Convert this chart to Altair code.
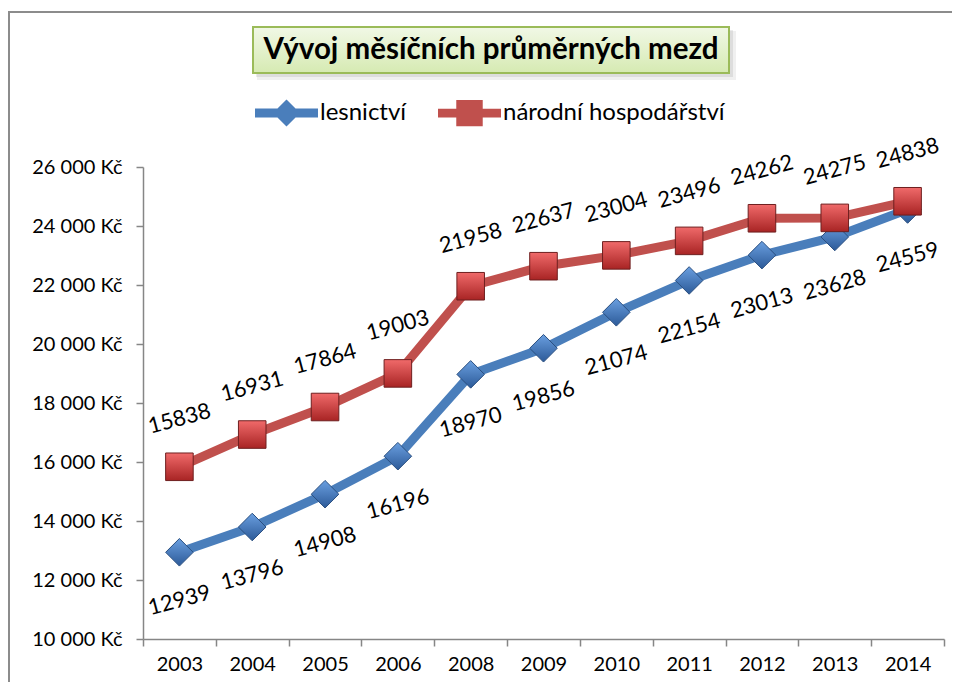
import altair as alt
import pandas as pd

years = ["2003", "2004", "2005", "2006", "2008", "2009", "2010", "2011", "2012", "2013", "2014"]
lesnictvi = [12939, 13796, 14908, 16196, 18970, 19856, 21074, 22154, 23013, 23628, 24559]
narodni = [15838, 16931, 17864, 19003, 21958, 22637, 23004, 23496, 24262, 24275, 24838]
series = ["lesnictví", "národní hospodářství"]
title_text = "Vývoj měsíčních průměrných mezd"
y_ticks = [10000, 12000, 14000, 16000, 18000, 20000, 22000, 24000, 26000]

rows = []
for yr, a, b in zip(years, lesnictvi, narodni):
    rows.append({"rok": yr, "serie": series[0], "mzda": a})
    rows.append({"rok": yr, "serie": series[1], "mzda": b})
df = pd.DataFrame(rows)

W, H = 801, 472
FONT = "Lato"
BLUE = "#4a7ebb"
RED = "#c0504d"
AXIS_GRAY = "#868686"
LABEL_SHIFT = 1627  # ~48 px in data units

x_scale = alt.Scale(type="band", domain=years, paddingInner=0, paddingOuter=0)
y_scale = alt.Scale(domain=[10000, 26000], nice=False, zero=False)

x_axis = alt.Axis(title=None, tickBand="extent", labelAngle=0, labelFont=FONT,
                  labelFontSize=20, labelColor="black", domainColor=AXIS_GRAY,
                  domainWidth=1.5, tickColor=AXIS_GRAY, tickWidth=1.5, tickSize=7,
                  labelPadding=8, grid=False)
y_axis = alt.Axis(title=None, values=y_ticks,
                  labelExpr="replace(format(datum.value, ',d'), ',', ' ') + ' Kč'",
                  labelFont=FONT, labelFontSize=20, labelColor="black",
                  domainColor=AXIS_GRAY, domainWidth=1.5, tickColor=AXIS_GRAY,
                  tickWidth=1.5, tickSize=7, labelPadding=14, grid=False)

X = alt.X("rok:O", scale=x_scale, axis=x_axis)
Y = alt.Y("mzda:Q", scale=y_scale, axis=y_axis)

one = pd.DataFrame({"k": [0]})

border = alt.Chart(one).mark_rect(fillOpacity=0, stroke="#8c8c8c", strokeWidth=2).encode(
    x=alt.value(-134), x2=alt.value(900), y=alt.value(-155), y2=alt.value(600))

shadow1 = alt.Chart(one).mark_rect(fill="#000000", opacity=0.06).encode(
    x=alt.value(114), x2=alt.value(593), y=alt.value(-136), y2=alt.value(-87))
shadow2 = alt.Chart(one).mark_rect(fill="#000000", opacity=0.08).encode(
    x=alt.value(113), x2=alt.value(590), y=alt.value(-137), y2=alt.value(-90))

title_box = alt.Chart(one).mark_rect(
    stroke="#9bbb59", strokeWidth=2,
    fill=alt.Gradient(gradient="linear", x1=0, x2=0, y1=0, y2=1,
                      stops=[alt.GradientStop(offset=0, color="#f1f8e6"),
                             alt.GradientStop(offset=1, color="#d6eab2")])
).encode(x=alt.value(110), x2=alt.value(586), y=alt.value(-140), y2=alt.value(-94))

title_mark = alt.Chart(one).mark_text(
    text=title_text, font=FONT, fontSize=29.5, fontWeight="bold", color="black",
    align="center", baseline="middle"
).encode(x=alt.value(348), y=alt.value(-117))

blue_df = df[df.serie == series[0]]
red_df = df[df.serie == series[1]]

blue_line = alt.Chart(blue_df).mark_line(color=BLUE, strokeWidth=9).encode(x=X, y=Y)
red_line = alt.Chart(red_df).mark_line(color=RED, strokeWidth=9).encode(x=X, y=Y)

blue_pts = alt.Chart(blue_df).mark_point(
    shape="diamond", filled=True, size=760, opacity=1,
    fill=alt.Gradient(gradient="linear", x1=0, x2=0, y1=0, y2=1,
                      stops=[alt.GradientStop(offset=0, color="#6a9fe0"),
                             alt.GradientStop(offset=1, color="#2c5a98")]),
    stroke="#2a4f80", strokeWidth=1).encode(x=X, y=Y)
red_pts = alt.Chart(red_df).mark_point(
    shape="square", filled=True, size=760, opacity=1,
    fill=alt.Gradient(gradient="linear", x1=0, x2=0, y1=0, y2=1,
                      stops=[alt.GradientStop(offset=0, color="#f06a6a"),
                             alt.GradientStop(offset=1, color="#a82424")]),
    stroke="#6e1f1f", strokeWidth=1).encode(x=X, y=Y)

labels = alt.Chart(df).transform_calculate(
    ly=f"datum.serie == '{series[0]}' ? datum.mzda - {LABEL_SHIFT} : datum.mzda + {LABEL_SHIFT}"
).mark_text(font=FONT, fontSize=22, color="black", angle=345,
            align="center", baseline="middle").encode(
    x=X, y=alt.Y("ly:Q", scale=y_scale, axis=y_axis), text=alt.Text("mzda:Q", format="d"))

path_blue = "M-1,-0.14 L1,-0.14 L1,0.14 L-1,0.14 Z M0,-0.43 L0.43,0 L0,0.43 L-0.43,0 Z"
path_red = "M-1,-0.14 L1,-0.14 L1,0.14 L-1,0.14 Z M-0.42,-0.42 L0.42,-0.42 L0.42,0.42 L-0.42,0.42 Z"

leg = dict(orient="none", legendX=112, legendY=-86, direction="horizontal", title=None,
           labelFont=FONT, labelFontSize=24, labelColor="black", labelLimit=0,
           symbolSize=3969, symbolStrokeWidth=0, symbolOpacity=1, labelOffset=2,
           columnPadding=31, padding=0)

legend_layer = alt.Chart(df).transform_filter("false").mark_point(filled=True, size=3969).encode(
    x=X, y=Y,
    color=alt.Color("serie:N", scale=alt.Scale(domain=series, range=[BLUE, RED]),
                    legend=alt.Legend(**leg)),
    shape=alt.Shape("serie:N", scale=alt.Scale(domain=series, range=[path_blue, path_red]),
                    legend=alt.Legend(**leg)))

chart = alt.layer(
    border, shadow1, shadow2, title_box, title_mark,
    blue_line, red_line, blue_pts, red_pts, labels, legend_layer
).properties(
    width=W, height=H,
    autosize=alt.AutoSizeParams(type="none"),
    padding={"left": 135, "top": 159, "right": 8, "bottom": 43},
    background="white"
).configure_view(stroke=None)

chart.save("out.html", embed_options={"renderer": "svg", "actions": False})
